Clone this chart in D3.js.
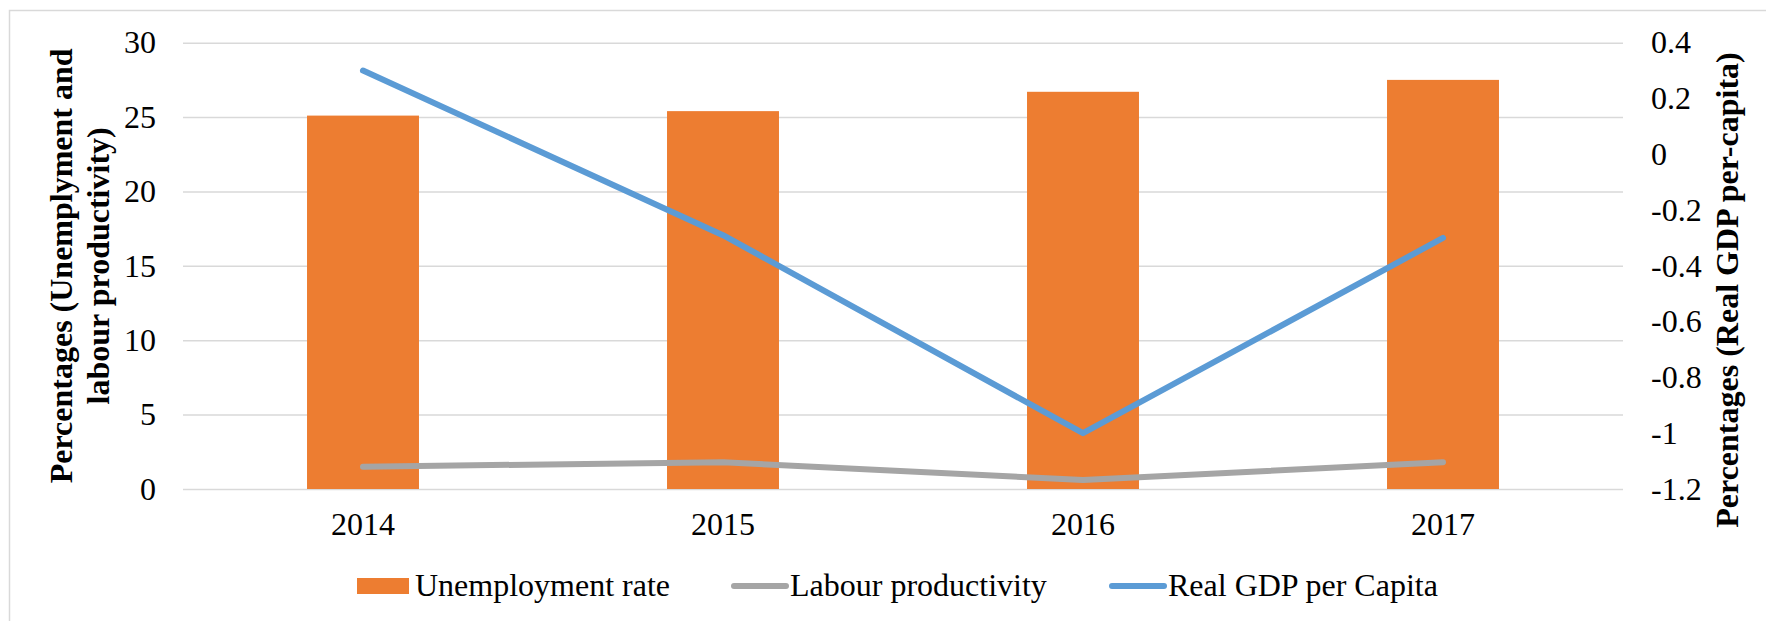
<!DOCTYPE html>
<html>
<head>
<meta charset="utf-8">
<script src="https://cdn.jsdelivr.net/npm/d3@7"></script>
<style>
  html, body { margin: 0; padding: 0; background: #fff; }
  svg { display: block; }
  svg text { font-family: "Liberation Serif", "Times New Roman", Times, Tinos, "Nimbus Roman", "DejaVu Serif", serif; fill: #000; }
</style>
</head>
<body>
<svg id="chart" width="1766" height="621"></svg>
<script>
// ---- data ----
const categories = ["2014", "2015", "2016", "2017"];
const unemploymentRate = [25.1, 25.4, 26.7, 27.5];
const labourProductivity = [1.5, 1.8, 0.6, 1.8];
const realGdpPerCapita = [0.3, -0.29, -1.0, -0.3];
const leftTicks = [0, 5, 10, 15, 20, 25, 30];
const rightTicks = [-1.2, -1, -0.8, -0.6, -0.4, -0.2, 0, 0.2, 0.4];
const seriesNames = ["Unemployment rate", "Labour productivity", "Real GDP per Capita"];
const leftTitle = ["Percentages (Unemplyment and", "labour productivity)"];
const rightTitle = "Percentages (Real GDP per-capita)";

// ---- layout ----
const W = 1766, H = 621;
const plot = { left: 183, right: 1623, top: 42.7, bottom: 489 };
const colors = { bar: "#ED7D31", labour: "#A5A5A5", gdp: "#5B9BD5", grid: "#D9D9D9" };
const FS = 32;
const FONT = '"Liberation Serif", "Times New Roman", Times, Tinos, "Nimbus Roman", "DejaVu Serif", serif';

const svg = d3.select("#chart");

// outer border
svg.append("rect")
  .attr("x", 9.5).attr("y", 10.5)
  .attr("width", W + 20).attr("height", H + 20)
  .attr("fill", "none").attr("stroke", colors.grid).attr("stroke-width", 1.5);

// scales
const x = d3.scaleBand().domain(categories)
  .range([plot.left, plot.right])
  .paddingInner(0.689).paddingOuter(0.3445);
const yL = d3.scaleLinear().domain([0, 30]).range([plot.bottom, plot.top]);
const yR = d3.scaleLinear().domain([-1.2, 0.4]).range([plot.bottom, plot.top]);
const cx = c => x(c) + x.bandwidth() / 2;

// gridlines
const grid = svg.append("g")
  .attr("transform", `translate(${plot.left},0)`)
  .call(d3.axisLeft(yL).tickValues(leftTicks).tickSize(-(plot.right - plot.left)).tickFormat(""));
grid.select(".domain").remove();
grid.selectAll("line").attr("stroke", colors.grid).attr("stroke-width", 1.5);

// bars
svg.append("g").selectAll("rect")
  .data(categories)
  .join("rect")
  .attr("x", c => x(c))
  .attr("width", x.bandwidth())
  .attr("y", (c, i) => yL(unemploymentRate[i]))
  .attr("height", (c, i) => yL(0) - yL(unemploymentRate[i]))
  .attr("fill", colors.bar);

// lines
const lineL = d3.line().x((d, i) => cx(categories[i])).y(d => yL(d));
const lineR = d3.line().x((d, i) => cx(categories[i])).y(d => yR(d));
svg.append("path").datum(labourProductivity)
  .attr("d", lineL).attr("fill", "none")
  .attr("stroke", colors.labour).attr("stroke-width", 6)
  .attr("stroke-linecap", "round").attr("stroke-linejoin", "round");
svg.append("path").datum(realGdpPerCapita)
  .attr("d", lineR).attr("fill", "none")
  .attr("stroke", colors.gdp).attr("stroke-width", 6)
  .attr("stroke-linecap", "round").attr("stroke-linejoin", "round");

function styleAxis(ax) {
  ax.attr("font-family", null).attr("font-size", null);
  ax.select(".domain").remove();
  ax.selectAll("text").style("font-size", FS + "px")
    .style("font-family", FONT).attr("fill", "#000");
}

// left axis
const axL = svg.append("g")
  .attr("transform", `translate(${plot.left},0)`)
  .call(d3.axisLeft(yL).tickValues(leftTicks).tickSize(0).tickPadding(27));
styleAxis(axL);

// right axis
const axR = svg.append("g")
  .attr("transform", `translate(${plot.right},0)`)
  .call(d3.axisRight(yR).tickValues(rightTicks).tickSize(0).tickPadding(28)
    .tickFormat(v => String(+v.toFixed(1))));
styleAxis(axR);

// x axis
const axX = svg.append("g")
  .attr("transform", `translate(0,${plot.bottom})`)
  .call(d3.axisBottom(x).tickSize(0).tickPadding(23));
styleAxis(axX);

// axis titles
const midY = (plot.top + plot.bottom) / 2;
const lt = svg.append("text")
  .attr("transform", `translate(72,${midY}) rotate(-90)`)
  .attr("text-anchor", "middle")
  .style("font-family", FONT)
  .style("font-size", FS + "px").style("font-weight", "bold");
lt.append("tspan").attr("x", 0).attr("y", 0).text(leftTitle[0]);
lt.append("tspan").attr("x", 0).attr("y", 37).text(leftTitle[1]);

svg.append("text")
  .attr("transform", `translate(1738,290) rotate(-90)`)
  .attr("text-anchor", "middle")
  .style("font-family", FONT)
  .style("font-size", FS + "px").style("font-weight", "bold")
  .text(rightTitle);

// legend
const legY = 586;
const legend = svg.append("g");
const legendStarts = [357, 732, 1110];
seriesNames.forEach((name, i) => {
  const g = legend.append("g").attr("transform", `translate(${legendStarts[i]},0)`);
  if (i === 0) {
    g.append("rect").attr("x", 0).attr("y", legY - 8).attr("width", 52).attr("height", 16)
      .attr("fill", colors.bar);
  } else {
    g.append("line").attr("x1", 2).attr("x2", 54).attr("y1", legY).attr("y2", legY)
      .attr("stroke", i === 1 ? colors.labour : colors.gdp)
      .attr("stroke-width", 6).attr("stroke-linecap", "round");
  }
  g.append("text").attr("x", 58).attr("y", 596)
    .style("font-family", FONT)
    .style("font-size", FS + "px").text(name);
});
</script>
</body>
</html>
